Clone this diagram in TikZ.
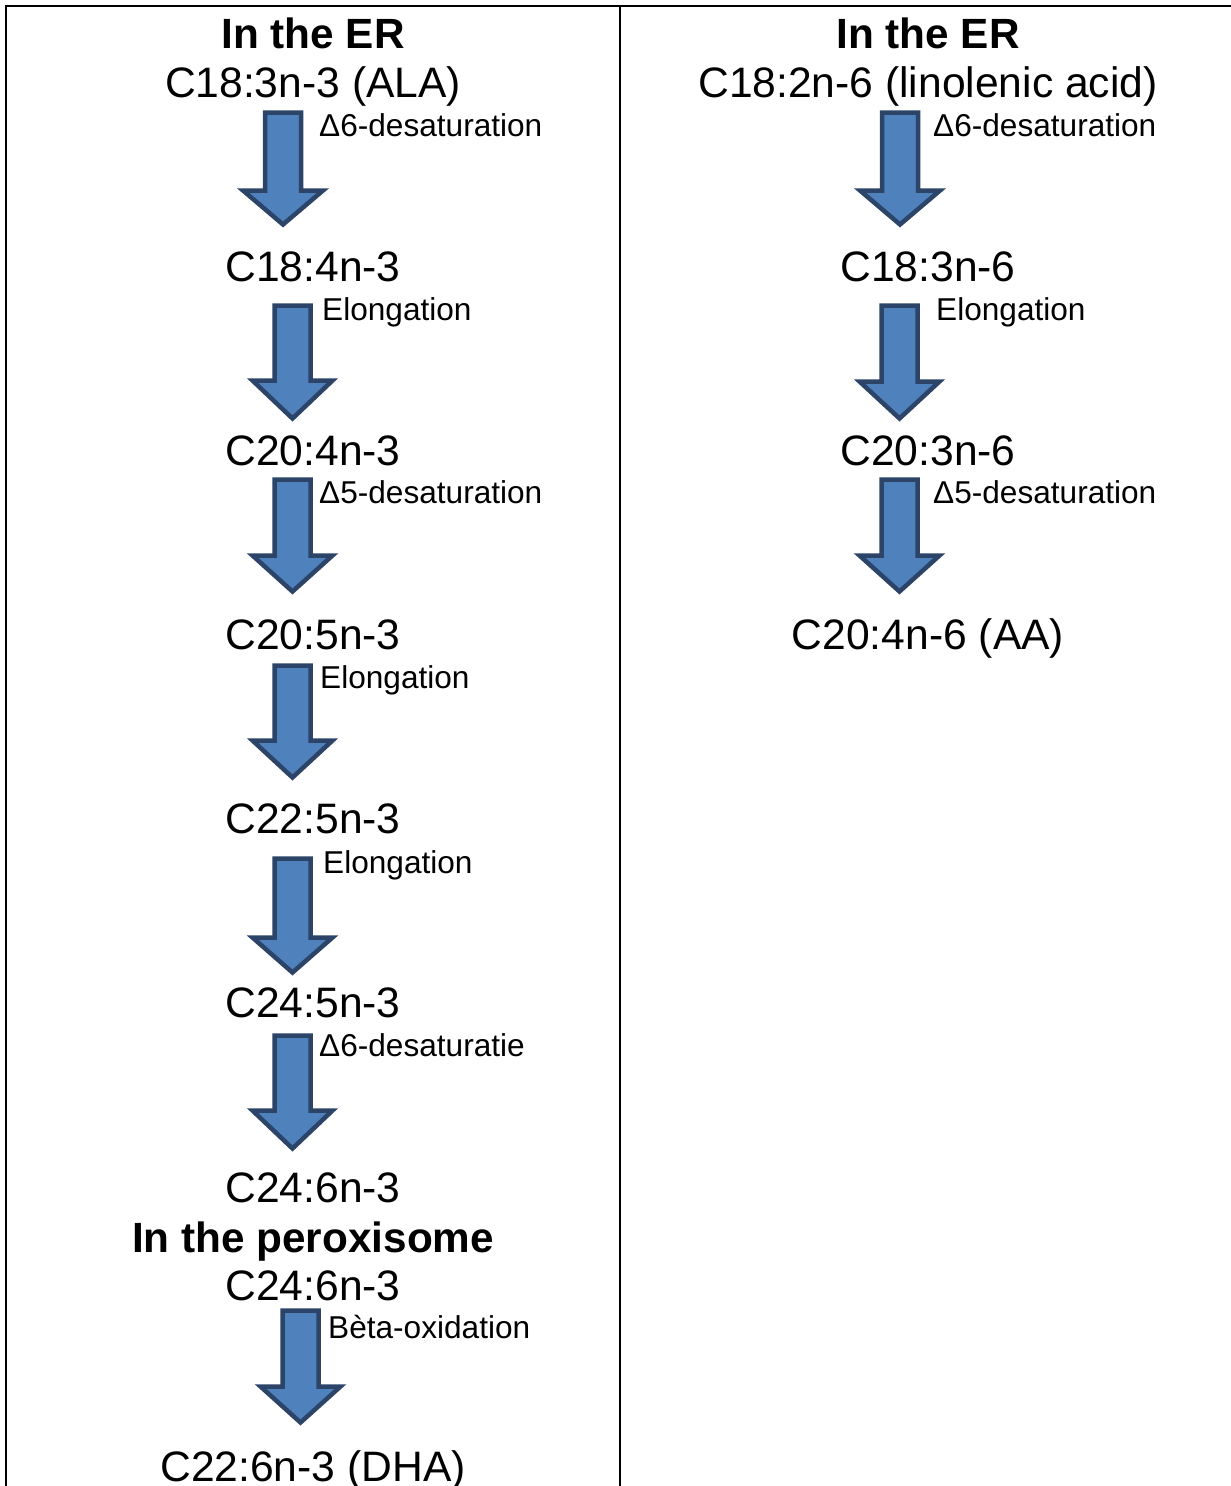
\documentclass[tikz,border=0pt]{standalone}
\usepackage{fontspec}
\setmainfont{Liberation Sans}
\definecolor{arrfill}{HTML}{4F81BD}
\definecolor{arrline}{HTML}{2B4468}
\tikzset{
  compound/.style={anchor=base, inner sep=0pt, font=\fontsize{42.6}{50}\selectfont},
  header/.style={anchor=base, inner sep=0pt, font=\fontsize{42.3}{50}\selectfont\bfseries},
  steplabel/.style={anchor=base west, inner sep=0pt, font=\fontsize{31.6}{37}\selectfont},
  blockarrow/.style={fill=arrfill, draw=arrline, line width=4.5pt, line join=miter},
  frameline/.style={line width=2.5pt, draw=black}
}
% #1 centre x, #2 outer top, #3 outer head top, #4 outer tip
\newcommand{\barrow}[4]{%
  \draw[blockarrow] ({#1-18},{#2+2.5}) -- ({#1+18},{#2+2.5}) -- ({#1+18},{#3+2.5})
    -- ({#1+40},{#3+2.5}) -- (#1,{#4-3.5}) -- ({#1-40},{#3+2.5}) -- ({#1-18},{#3+2.5}) -- cycle;}
\begin{document}
\begin{tikzpicture}[x=1pt, y=-1pt]
\useasboundingbox (0,0) rectangle (1231,1486);
% frame
\draw[frameline] (6,1490) -- (6,6) -- (1235,6);
\draw[frameline] (620,6) -- (620,1490);

% left column
\node[header]   (hL)  at (313,48)   {In the ER};
\node[compound] (l1)  at (313,97)   {C18:3n-3 (ALA)};
\node[compound] (l2)  at (313,281)  {C18:4n-3};
\node[compound] (l3)  at (313,465)  {C20:4n-3};
\node[compound] (l4)  at (313,649)  {C20:5n-3};
\node[compound] (l5)  at (313,833)  {C22:5n-3};
\node[compound] (l6)  at (313,1017) {C24:5n-3};
\node[compound] (l7)  at (313,1202) {C24:6n-3};
\node[header]   (hP)  at (313,1252) {In the peroxisome};
\node[compound] (l8)  at (313,1300) {C24:6n-3};
\node[compound] (l9)  at (313,1481) {C22:6n-3 (DHA)};

\barrow{283}{110}{188}{228}
\barrow{292.5}{303}{378}{422}
\barrow{292.5}{477}{553}{595}
\barrow{292.5}{663}{738}{781}
\barrow{292.5}{856}{935}{976}
\barrow{292.5}{1033}{1108}{1152}
\barrow{300.5}{1308}{1384}{1426}

\node[steplabel] (a1) at (319,136)  {Δ6-desaturation};
\node[steplabel] (a2) at (322,320)  {Elongation};
\node[steplabel] (a3) at (319,503)  {Δ5-desaturation};
\node[steplabel] (a4) at (320,688)  {Elongation};
\node[steplabel] (a5) at (323,873)  {Elongation};
\node[steplabel] (a6) at (319,1056) {Δ6-desaturatie};
\node[steplabel] (a7) at (328,1338) {Bèta-oxidation};

% right column
\node[header]   (hR)  at (928,48)  {In the ER};
\node[compound] (r1)  at (928,97)  {C18:2n-6 (linolenic acid)};
\node[compound] (r2)  at (928,281) {C18:3n-6};
\node[compound] (r3)  at (928,465) {C20:3n-6};
\node[compound] (r4)  at (928,649) {C20:4n-6 (AA)};

\barrow{900}{110}{188}{228}
\barrow{899.5}{303}{379}{422}
\barrow{899.5}{477}{553}{595}

\node[steplabel] (b1) at (933,136) {Δ6-desaturation};
\node[steplabel] (b2) at (936,320) {Elongation};
\node[steplabel] (b3) at (933,503) {Δ5-desaturation};
\end{tikzpicture}
\end{document}
